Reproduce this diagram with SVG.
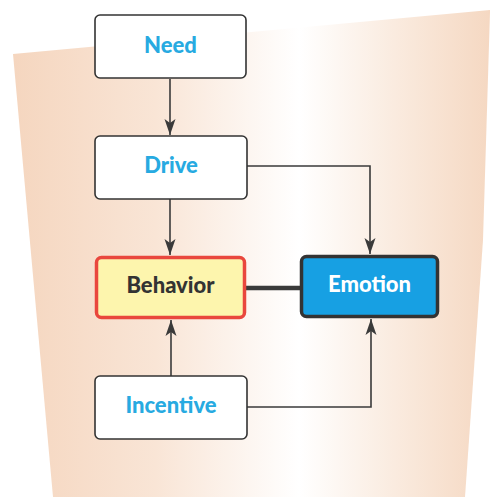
<svg xmlns="http://www.w3.org/2000/svg" width="490" height="497" viewBox="0 0 490 497">
<defs>
<linearGradient id="bg" x1="0" y1="0" x2="1" y2="0">
<stop offset="0" stop-color="#f5d6bf"/>
<stop offset="0.3" stop-color="#f9e5d6"/>
<stop offset="0.6" stop-color="#ffffff"/>
<stop offset="0.8" stop-color="#faebdf"/>
<stop offset="1" stop-color="#f5d8c2"/>
</linearGradient>
<marker id="arr" viewBox="0 0 16 12" refX="16" refY="6" markerWidth="16" markerHeight="12" markerUnits="userSpaceOnUse" orient="auto">
<path d="M0,0.5 L16,6 L0,11.5 L4,6 Z" fill="#3a3a3a"/>
</marker>
<style>
.box{fill:#fff;stroke:#333;stroke-width:1.6}
.lbl{font-family:Lato,"Open Sans",sans-serif;font-weight:900;font-size:22px;text-anchor:middle}
.blue{fill:#27aae1}
.conn{fill:none;stroke:#3a3a3a;stroke-width:1.6}
</style>
</defs>
<rect width="490" height="497" fill="#fff"/>
<polygon points="13,54 490,10 490,12 483,240 465,497 53,497" fill="url(#bg)"/>
<g id="connectors">
<path class="conn" d="M170,79 V135" marker-end="url(#arr)"/>
<path class="conn" d="M170,199 V255" marker-end="url(#arr)"/>
<path class="conn" d="M247,166 H370 V254" marker-end="url(#arr)"/>
<path class="conn" d="M171,376 V320" marker-end="url(#arr)"/>
<path class="conn" d="M247,407 H371 V319" marker-end="url(#arr)"/>
<path d="M246,288 H300" stroke="#3a3a3a" stroke-width="4.5" fill="none"/>
</g>
<g id="need">
<rect class="box" x="95" y="15" width="151" height="63" rx="5"/>
<text class="lbl blue" x="170.5" y="53">Need</text>
</g>
<g id="drive">
<rect class="box" x="95" y="136" width="152" height="63" rx="5"/>
<text class="lbl blue" x="171" y="173">Drive</text>
</g>
<g id="behavior">
<rect x="96.5" y="257.5" width="148" height="60" rx="5" fill="#fdf5ad" stroke="#e9473d" stroke-width="3.5"/>
<text class="lbl" x="170.5" y="293" fill="#333">Behavior</text>
</g>
<g id="emotion">
<rect x="301.5" y="256.5" width="136" height="60" rx="5" fill="#17a0e3" stroke="#333" stroke-width="3.5"/>
<text class="lbl" x="369.5" y="292" fill="#fff">Emotion</text>
</g>
<g id="incentive">
<rect class="box" x="95" y="376" width="152" height="63" rx="5"/>
<text class="lbl blue" x="171" y="413">Incentive</text>
</g>
</svg>
